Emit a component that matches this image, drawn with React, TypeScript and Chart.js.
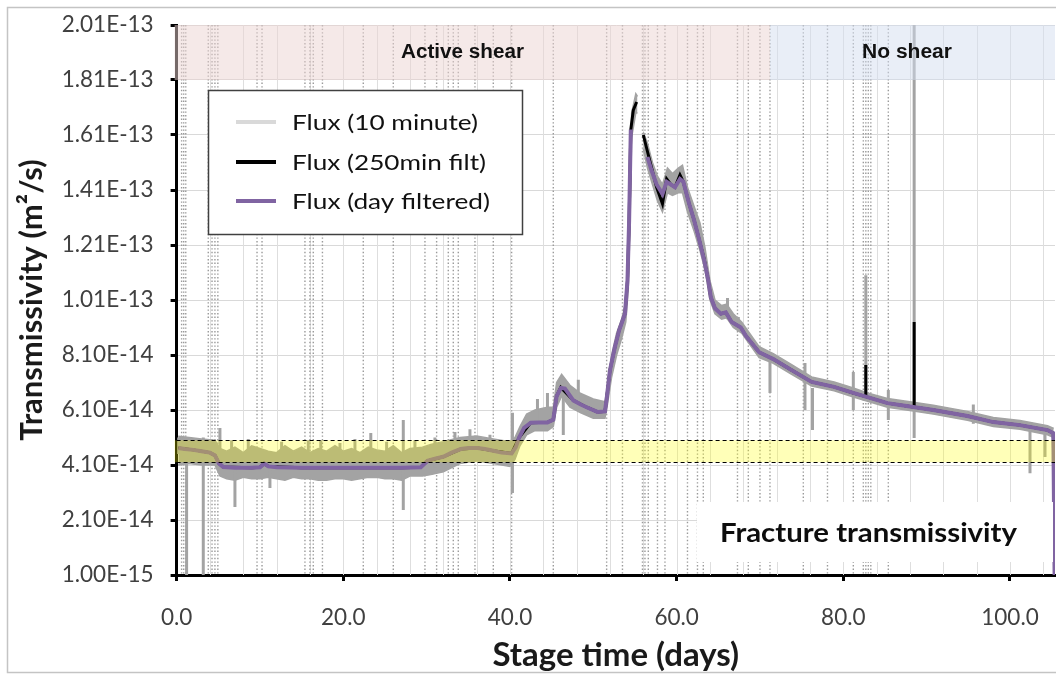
import React, { useEffect, useRef } from "react";
import { Chart, registerables } from "chart.js";

Chart.register(...registerables);

// ---------- DATA (values in units of 1E-14 m²/s, time in days) ----------
const yTickValues = [0.1, 2.1, 4.1, 6.1, 8.1, 10.1, 12.1, 14.1, 16.1, 18.1, 20.1];
const yTickLabels = ["1.00E-15", "2.10E-14", "4.10E-14", "6.10E-14", "8.10E-14", "1.01E-13", "1.21E-13", "1.41E-13", "1.61E-13", "1.81E-13", "2.01E-13"];
const xTickValues = [0, 20, 40, 60, 80, 100];
const xTickLabels = ["0.0", "20.0", "40.0", "60.0", "80.0", "100.0"];
const xMax = 105.4;

const seriesNames = ["Flux (10 minute)", "Flux (250min filt)", "Flux (day filtered)"];

// day-filtered flux (purple)
const purpleDays = [0.2, 1, 2, 3, 4, 4.6, 5.1, 5.6, 7, 9, 10, 10.5, 11, 12, 15, 18, 21, 24, 27, 29.3, 30.1, 31, 32, 33, 34.1, 35, 36.1, 37, 38, 39, 40.2, 40.7, 41.1, 41.7, 42.5, 43.5, 44.5, 45.2, 45.6, 46.1, 46.6, 47.6, 48.5, 49.2, 50.5, 51.4, 51.6, 52.0, 52.6, 53.1, 53.8, 54.1, 54.3, 54.5, 55.6, 56.5, 57.0, 57.6, 58.3, 58.8, 59.3, 59.8, 60.4, 60.8, 61.5, 62.1, 62.7, 63.3, 63.8, 64.1, 64.6, 65.3, 65.9, 66.6, 67.7, 68.3, 69.9, 71.6, 73.8, 76.2, 78.9, 81.2, 82.9, 85.3, 88.4, 90.8, 94.9, 98.0, 101.2, 104.5, 105.2, 105.35];
const purpleValues = [4.72, 4.68, 4.65, 4.6, 4.55, 4.45, 4.15, 4.03, 4.0, 4.0, 4.02, 4.15, 4.05, 4.02, 4.0, 4.0, 4.0, 4.0, 4.0, 4.02, 4.25, 4.33, 4.4, 4.55, 4.68, 4.72, 4.72, 4.68, 4.62, 4.55, 4.52, 4.75, 5.1, 5.45, 5.64, 5.65, 5.65, 5.75, 6.6, 6.9, 6.88, 6.45, 6.3, 6.2, 6.03, 6.05, 6.5, 7.55, 8.4, 9.0, 9.6, 10.8, 13.0, 16.3, null, 15.3, 14.8, 14.3, 13.95, 14.4, 14.3, 14.2, 14.5, 14.4, 13.6, 13.0, 12.3, 11.55, 10.8, 10.2, 9.8, 9.6, 9.65, 9.3, 9.1, 8.8, 8.2, 7.95, 7.55, 7.12, 6.94, 6.72, 6.57, 6.35, 6.21, 6.1, 5.88, 5.66, 5.55, 5.37, 5.26, 0.1];

// 250-minute filtered flux (black)
const blackDays = [0.2, 2, 4, 4.6, 5.1, 5.6, 9, 10, 10.5, 11, 15, 21, 27, 29.3, 30.1, 32, 34.1, 36.1, 38, 40.2, 41.1, 42.5, 44.5, 45.2, 45.6, 46.1, 47.6, 49.2, 50.5, 51.4, 51.6, 52.0, 52.6, 53.1, 53.8, 54.1, 54.3, 54.5, 54.8, 55.2, 55.6, 56.0, 56.5, 57.0, 57.6, 58.3, 58.8, 59.3, 59.8, 60.4, 60.8, 61.5, 62.1, 62.7, 63.3, 63.8, 64.1, 64.6, 65.3, 65.9, 66.6, 67.7, 68.3, 69.9, 71.6, 73.8, 76.2, 78.9, 81.2, 82.9, 85.3, 88.4, 90.8, 94.9, 98.0, 101.2, 104.5, 105.2, 105.35];
const blackValues = [4.72, 4.65, 4.55, 4.45, 4.15, 4.03, 4.0, 4.02, 4.15, 4.05, 4.0, 4.0, 4.0, 4.02, 4.25, 4.4, 4.68, 4.72, 4.62, 4.52, 5.1, 5.64, 5.65, 5.75, 6.6, 6.92, 6.45, 6.2, 6.03, 6.05, 6.5, 7.55, 8.4, 9.0, 9.6, 10.8, 13.0, 16.3, 17.0, 17.3, null, 16.1, 15.5, 14.9, 14.2, 13.6, 14.5, 14.3, 14.2, 14.65, 14.4, 13.6, 13.0, 12.3, 11.6, 10.8, 10.2, 9.8, 9.6, 9.65, 9.3, 9.1, 8.8, 8.2, 7.95, 7.55, 7.12, 6.94, 6.72, 6.57, 6.35, 6.21, 6.1, 5.88, 5.66, 5.55, 5.37, 5.26, 0.1];
const blackSpikeDays = [82.7, 88.5];
const blackSpikeLow = [6.55, 6.2];
const blackSpikeHigh = [7.74, 9.3];

// 10-minute flux (grey): noise envelope + spikes
const greyDays = [0.2, 1.5, 3.0, 4.6, 5.2, 6, 7, 8, 9, 10, 11, 12, 13, 14, 15, 16, 17, 18, 19, 20, 21, 22, 23, 24, 25, 26, 27, 28, 29.5, 30.5, 32, 34, 36, 38, 40, 40.6, 41.2, 42, 43, 44.5, 45.2, 45.6, 46.2, 47.2, 48.5, 50, 51.4, 51.7, 52.2, 52.8, 53.4, 53.9, 54.2, 54.4, 54.6, 55.1, 55.3, 55.6, 56.0, 56.5, 57.1, 57.7, 58.3, 58.9, 59.5, 60.2, 60.7, 61.3, 62.1, 62.8, 63.4, 64.0, 64.6, 65.4, 66.0, 66.8, 67.8, 69.9, 71.6, 73.8, 76.2, 78.9, 81.2, 82.9, 85.3, 88.4, 90.8, 94.9, 98.0, 101.2, 104.5, 105.25];
const greyLow = [4.1, 4.15, 4.1, 4.1, 3.7, 3.6, 3.55, 3.65, 3.6, 3.6, 3.65, 3.6, 3.55, 3.65, 3.6, 3.6, 3.55, 3.55, 3.6, 3.6, 3.55, 3.6, 3.65, 3.65, 3.6, 3.6, 3.55, 3.7, 3.7, 3.75, 3.85, 4.15, 4.25, 4.15, 4.05, 4.3, 4.8, 5.2, 5.35, 5.35, 5.5, 6.2, 6.6, 6.2, 6.0, 5.8, 5.8, 6.3, 7.3, 8.1, 8.7, 9.3, 10.5, 12.8, 16.0, 16.9, 16.9, null, 15.6, 14.9, 14.3, 13.7, 13.3, 14.0, 13.9, 14.0, 14.0, 13.3, 12.6, 11.9, 11.2, 10.1, 9.6, 9.4, 9.45, 9.1, 8.9, 8.0, 7.8, 7.4, 6.97, 6.8, 6.57, 6.42, 6.2, 6.06, 5.95, 5.73, 5.5, 5.4, 5.2, 5.1];
const greyHigh = [5.15, 5.1, 5.05, 5.0, 4.7, 4.6, 4.75, 4.55, 4.8, 4.7, 4.6, 4.55, 4.8, 4.6, 4.75, 4.55, 4.7, 4.6, 4.8, 4.6, 4.7, 4.55, 4.75, 4.65, 4.6, 4.8, 4.55, 4.7, 4.75, 4.85, 4.95, 5.1, 5.15, 5.05, 4.95, 5.1, 5.5, 5.95, 6.1, 6.2, 6.2, 7.1, 7.4, 7.0, 6.7, 6.5, 6.4, 7.0, 8.1, 8.9, 9.4, 10.0, 11.5, 14.0, 16.9, 17.6, 17.5, null, 16.2, 15.8, 15.1, 14.6, 14.3, 14.9, 14.7, 14.9, 15.0, 14.2, 13.5, 12.9, 12.0, 10.8, 10.1, 9.9, 9.95, 9.6, 9.3, 8.4, 8.15, 7.75, 7.3, 7.12, 6.9, 6.72, 6.52, 6.38, 6.27, 6.05, 5.83, 5.72, 5.53, 5.43];
const greySpikeDays = [0.25, 1.2, 3.2, 5.2, 6.6, 7.0, 8.6, 11.2, 12.6, 15.8, 17.3, 19.6, 21.4, 23.3, 25.2, 27.2, 28.6, 31.0, 33.4, 35.2, 37.6, 40.3, 43.3, 44.5, 46.4, 48.2, 66.1, 67.4, 71.2, 75.4, 76.3, 81.2, 82.7, 85.4, 88.5, 95.6, 102.4, 104.2];
const greySpikeLow = [4.5, 0.1, 0.1, 4.0, 4.0, 2.57, 4.0, 3.26, 4.0, 3.9, 4.0, 4.0, 4.0, 4.0, 4.0, 2.46, 4.0, 4.0, 4.3, 4.4, 4.3, 3.08, 5.4, 5.5, 5.19, 6.2, 9.4, 9.0, 6.72, 6.1, 5.37, 6.1, 6.5, 5.74, 5.08, 5.6, 3.8, 4.39];
const greySpikeHigh = [5.1, 5.0, 5.1, 5.45, 5.0, 4.0, 5.05, 4.0, 4.95, 5.0, 5.0, 4.9, 5.05, 5.26, 4.95, 5.74, 5.0, 5.1, 5.3, 5.4, 5.2, 6.0, 6.5, 6.72, 6.8, 7.2, 10.17, 9.48, 7.9, 7.81, 6.9, 7.48, 11.0, 6.83, 20.1, 6.3, 5.6, 5.4];

// shear stages and reference band
const activeShearEnd = 71.2;
const shearBandRange = [18.1, 20.1];
const referenceBand = [4.2, 5.0];
const eventDays = [0.6, 0.85, 1.1, 3.8, 4.25, 4.6, 4.95, 9.65, 10.25, 15.4, 16.0, 16.4, 17.5, 22.4, 26.0, 29.8, 31.2, 32.6, 33.2, 33.8, 35.8, 38.0, 40.2, 45.2, 51.6, 53.5, 55.9, 56.2, 56.6, 57.7, 58.6, 61.3, 62.5, 63.2, 67.3, 68.6, 70.0, 71.2, 75.2, 78.1, 81.2, 82.4, 82.7, 83.0, 83.3, 85.4];

// ---------- helpers ----------
const toPoints = (days: number[], vals: (number | null)[]) => days.map((d, i) => ({ x: d, y: vals[i] }));
const spikePoints = (days: number[], lo: number[], hi: number[]) =>
  days.flatMap((d, i) => [{ x: d, y: lo[i] }, { x: d, y: hi[i] }, { x: d, y: null as any }]);

function fitText(ctx: CanvasRenderingContext2D, text: string, x: number, y: number, w: number) {
  const m = ctx.measureText(text).width;
  const s = m > 0 ? w / m : 1;
  ctx.save();
  ctx.translate(x, y);
  ctx.scale(s, 1);
  ctx.textAlign = "left";
  ctx.fillText(text, 0, 0);
  ctx.restore();
}

const decorPlugin = {
  id: "decor",
  beforeDatasetsDraw(chart: any) {
    const { ctx, chartArea: a, scales } = chart;
    const x = scales.x;
    ctx.save();
    // minor vertical grid every 4 days
    ctx.strokeStyle = "#dedede";
    ctx.lineWidth = 1;
    for (let d = 4; d < xMax; d += 4) {
      const px = Math.round(x.getPixelForValue(d)) + 0.5;
      ctx.beginPath();
      ctx.moveTo(px, a.top);
      ctx.lineTo(px, a.bottom);
      ctx.stroke();
    }
    // dotted event lines
    ctx.strokeStyle = "#9a9a9a";
    ctx.lineWidth = 1.4;
    ctx.setLineDash([1.4, 2.2]);
    eventDays.forEach((d) => {
      const px = x.getPixelForValue(d);
      ctx.beginPath();
      ctx.moveTo(px, a.top);
      ctx.lineTo(px, a.bottom);
      ctx.stroke();
    });
    ctx.restore();
  },
  afterDatasetsDraw(chart: any) {
    const { ctx, chartArea: a, scales } = chart;
    const x = scales.x;
    const y = scales.y;
    ctx.save();
    // shear stage bands (semi-transparent overlays)
    const bTop = y.getPixelForValue(shearBandRange[1]);
    const bBot = y.getPixelForValue(shearBandRange[0]);
    const xs = x.getPixelForValue(activeShearEnd);
    ctx.fillStyle = "rgba(235,211,209,0.5)";
    ctx.fillRect(a.left - 2, bTop, xs - a.left + 2, bBot - bTop);
    ctx.fillStyle = "rgba(211,221,239,0.5)";
    ctx.fillRect(xs, bTop, a.right - xs, bBot - bTop);

    // yellow reference band
    const yT = y.getPixelForValue(referenceBand[1]);
    const yB = y.getPixelForValue(referenceBand[0]);
    ctx.fillStyle = "rgba(255,255,0,0.28)";
    ctx.fillRect(a.left - 2, yT, a.right - a.left + 2, yB - yT);
    ctx.strokeStyle = "#000";
    ctx.lineWidth = 1;
    ctx.setLineDash([4, 3]);
    ctx.beginPath();
    ctx.moveTo(a.left, Math.round(yT) + 0.5);
    ctx.lineTo(a.right, Math.round(yT) + 0.5);
    ctx.moveTo(a.left, Math.round(yB) + 0.5);
    ctx.lineTo(a.right, Math.round(yB) + 0.5);
    ctx.stroke();
    ctx.setLineDash([]);

    // white caption box
    ctx.fillStyle = "#fff";
    ctx.fillRect(697, 502, a.right - 2 - 697, 60);
    ctx.fillStyle = "#0d0d0d";
    ctx.font = "bold 27px Lato";
    ctx.textBaseline = "alphabetic";
    fitText(ctx, "Fracture transmissivity", 720, 542, 297);

    // stage labels
    ctx.fillStyle = "#111";
    ctx.font = "bold 20px 'Liberation Sans'";
    fitText(ctx, "Active shear", 401, 58, 123);
    fitText(ctx, "No shear", 862, 58, 90);

    // legend box
    ctx.fillStyle = "#fff";
    ctx.fillRect(208, 90, 315, 145);
    ctx.strokeStyle = "#404040";
    ctx.lineWidth = 1.5;
    ctx.strokeRect(208.5, 90.5, 314, 144);
    const legColors = ["#d9d9d9", "#000000", "#8064a2"];
    const legY = [122, 162, 201];
    const legW = [186, 194, 198];
    ctx.font = "22px Lato";
    ctx.textBaseline = "middle";
    seriesNames.forEach((n, i) => {
      ctx.strokeStyle = legColors[i];
      ctx.lineWidth = 4;
      ctx.beginPath();
      ctx.moveTo(236, legY[i]);
      ctx.lineTo(276, legY[i]);
      ctx.stroke();
      ctx.fillStyle = "#111";
      fitText(ctx, n, 292, legY[i] + 1, legW[i]);
    });
    ctx.restore();
  },
  afterDraw(chart: any) {
    const { ctx } = chart;
    ctx.save();
    ctx.strokeStyle = "#c4c4c4";
    ctx.lineWidth = 1.5;
    ctx.strokeRect(7.5, 7.5, 1120, 665);
    ctx.restore();
  },
};

export default function App() {
  const ref = useRef<HTMLCanvasElement | null>(null);
  useEffect(() => {
    if (!ref.current) return;
    const chart = new Chart(ref.current, {
      type: "line",
      data: {
        datasets: [
          { label: seriesNames[2], data: toPoints(purpleDays, purpleValues), borderColor: "#8064a2", borderWidth: 4, pointRadius: 0, fill: false, spanGaps: false, order: 0 },
          { label: seriesNames[1], data: toPoints(blackDays, blackValues), borderColor: "#000", borderWidth: 3, pointRadius: 0, fill: false, spanGaps: false, order: 1 },
          { label: "black spikes", data: spikePoints(blackSpikeDays, blackSpikeLow, blackSpikeHigh), borderColor: "#000", borderWidth: 3, pointRadius: 0, fill: false, spanGaps: false, order: 2 },
          { label: "grey spikes", data: spikePoints(greySpikeDays, greySpikeLow, greySpikeHigh), borderColor: "#a3a3a3", borderWidth: 3, pointRadius: 0, fill: false, spanGaps: false, order: 3 },
          { label: seriesNames[0], data: toPoints(greyDays, greyHigh), borderColor: "#a3a3a3", backgroundColor: "#a3a3a3", borderWidth: 1.5, pointRadius: 0, fill: 5, spanGaps: false, order: 4 },
          { label: "grey low", data: toPoints(greyDays, greyLow), borderColor: "#a3a3a3", borderWidth: 1.5, pointRadius: 0, fill: false, spanGaps: false, order: 5 },
        ] as any,
      },
      options: {
        animation: false,
        responsive: false,
        devicePixelRatio: 1,
        layout: { padding: { top: 25, right: 1, left: 0, bottom: 0 } },
        plugins: { legend: { display: false }, tooltip: { enabled: false } },
        elements: { line: { tension: 0 } },
        scales: {
          x: {
            type: "linear",
            min: 0,
            max: xMax,
            afterFit: (s: any) => { s.height = 100; s.paddingLeft = 0; s.paddingRight = 0; },
            afterBuildTicks: (s: any) => { s.ticks = xTickValues.map((v) => ({ value: v })); },
            ticks: {
              includeBounds: false,
              padding: 23,
              color: "#404040",
              font: { family: "Lato", size: 22.5 },
              maxRotation: 0,
              callback: (v: any) => { const i = xTickValues.indexOf(Number(v)); return i >= 0 ? xTickLabels[i] : ""; },
            },
            grid: { display: true, drawOnChartArea: false, drawTicks: true, tickLength: 6, tickColor: "#000", tickWidth: 3 },
            border: { display: true, color: "#000", width: 3 },
            title: { display: true, text: "Stage time (days)", color: "#1a1a1a", font: { family: "Lato", size: 33, weight: "bold" }, padding: { top: 0, bottom: 0 } },
          },
          y: {
            type: "linear",
            min: yTickValues[0],
            max: yTickValues[yTickValues.length - 1],
            afterFit: (s: any) => { s.width = 176.6; s.paddingTop = 0; s.paddingBottom = 0; },
            afterBuildTicks: (s: any) => { s.ticks = yTickValues.map((v) => ({ value: v })); },
            ticks: {
              padding: 17,
              color: "#404040",
              font: { family: "Lato", size: 22.5 },
              callback: (v: any) => { const i = yTickValues.findIndex((t) => Math.abs(t - Number(v)) < 1e-6); return i >= 0 ? yTickLabels[i] : ""; },
            },
            grid: { display: true, drawOnChartArea: true, color: "#d9d9d9", lineWidth: 1, drawTicks: true, tickLength: 6, tickColor: "#000", tickWidth: 3 },
            border: { display: true, color: "#000", width: 3 },
            title: { display: true, text: "Transmissivity (m²/s)", color: "#1a1a1a", font: { family: "Lato", size: 31, weight: "bold" }, padding: { top: 13, bottom: 0 } },
          },
        },
      } as any,
      plugins: [decorPlugin],
    });
    return () => chart.destroy();
  }, []);
  return (
    <div style={{ position: "fixed", left: 0, top: 0, width: 1056, height: 675, background: "#fff", overflow: "hidden" }}>
      <canvas ref={ref} width={1056} height={675} style={{ width: 1056, height: 675, display: "block" }} />
    </div>
  );
}
